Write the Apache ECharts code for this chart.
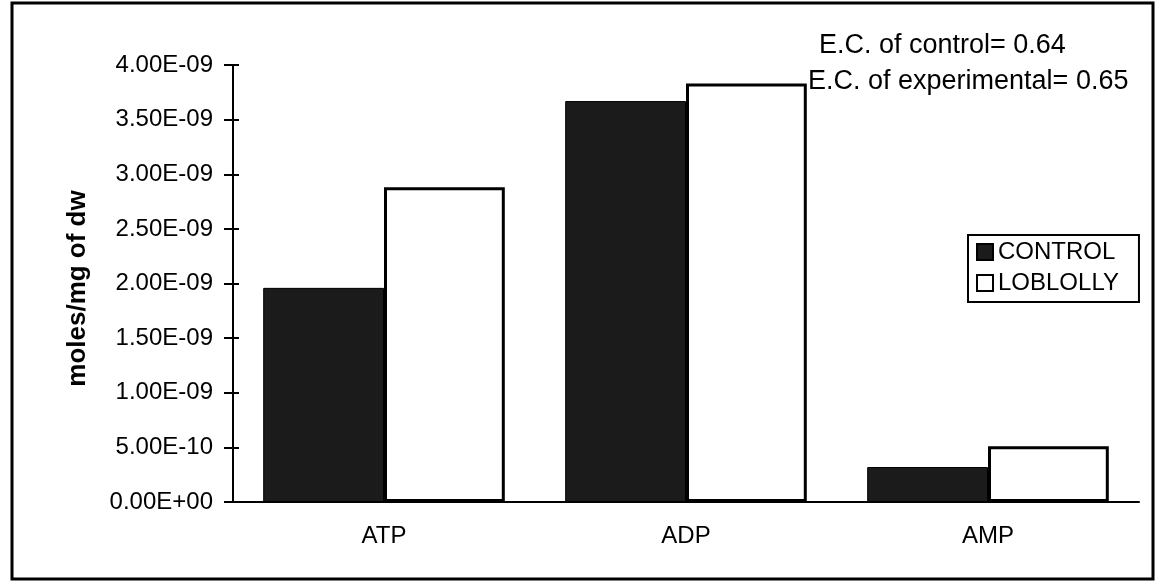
<!DOCTYPE html>
<html><head><meta charset="utf-8">
<script src="https://cdn.jsdelivr.net/npm/echarts@6/dist/echarts.min.js"></script>
<style>html,body{margin:0;padding:0;background:#fff}#c{width:1157px;height:584px}</style>
</head><body><div id="c"></div>
<script>
const categories = ['ATP', 'ADP', 'AMP'];
const controlValues = [1.96e-9, 3.67e-9, 0.32e-9];
const loblollyValues = [2.88e-9, 3.83e-9, 0.51e-9];
const yTickLabels = ['0.00E+00','5.00E-10','1.00E-09','1.50E-09','2.00E-09','2.50E-09','3.00E-09','3.50E-09','4.00E-09'];
const seriesNames = ['CONTROL', 'LOBLOLLY'];
const notes = ['E.C. of control= 0.64', 'E.C. of experimental= 0.65'];
const yTitle = 'moles/mg of dw';

const font = 'Liberation Sans, Arial, sans-serif';
const chart = echarts.init(document.getElementById('c'), null, {renderer: 'canvas'});
const yBase = {type: 'value', min: 0, max: 4e-9, interval: 5e-10, splitLine: {show: false}};
chart.setOption({
  animation: false,
  backgroundColor: '#fff',
  graphic: [
    {type: 'rect', shape: {x: 12, y: 3, width: 1141, height: 576}, style: {fill: 'none', stroke: '#000', lineWidth: 3}, silent: true},
    {type: 'text', left: 819, top: 32, style: {text: notes[0], font: '27px ' + font, fill: '#000'}},
    {type: 'text', left: 808, top: 68, style: {text: notes[1], font: '27px ' + font, fill: '#000'}}
  ],
  legend: {
    orient: 'vertical',
    left: 968, top: 235,
    icon: 'rect',
    itemWidth: 16, itemHeight: 16, itemGap: 7,
    padding: [5, 20, 7, 8],
    borderColor: '#000', borderWidth: 2,
    itemStyle: {borderWidth: 2},
    textStyle: {fontFamily: font, fontSize: 24, lineHeight: 24, color: '#000'},
    data: seriesNames
  },
  grid: {left: 233, right: 18, top: 65, bottom: 82},
  xAxis: [{
    type: 'category',
    data: categories,
    axisLine: {lineStyle: {color: '#000', width: 2}},
    axisTick: {length: 10, lineStyle: {color: '#000', width: 2}},
    axisLabel: {fontFamily: font, fontSize: 24, color: '#000', margin: 22}
  }, {
    type: 'category', position: 'bottom',
    data: categories,
    axisLine: {show: false},
    axisTick: {inside: true, length: 6, lineStyle: {color: '#000', width: 2}},
    axisLabel: {show: false}
  }],
  yAxis: [Object.assign({}, yBase, {
    name: yTitle, nameLocation: 'middle', nameGap: 142, nameRotate: 90,
    nameTextStyle: {fontFamily: font, fontSize: 26, fontWeight: 'bold', color: '#000', padding: [0, 10, 0, 0]},
    axisLine: {show: true, lineStyle: {color: '#000', width: 2}},
    axisTick: {show: true, length: 9, lineStyle: {color: '#000', width: 2}},
    axisLabel: {fontFamily: font, fontSize: 24, color: '#000', margin: 20,
      formatter: (v) => yTickLabels[Math.round(v / 5e-10)] || ''}
  }), Object.assign({}, yBase, {
    position: 'left',
    axisLine: {show: false},
    axisTick: {show: true, inside: true, length: 6, lineStyle: {color: '#000', width: 2}},
    axisLabel: {show: false}
  })],
  series: [
    {name: seriesNames[0], type: 'bar', data: controlValues, barGap: '0%', barCategoryGap: '20%',
     itemStyle: {color: '#1b1b1b', borderColor: '#000', borderWidth: 1}},
    {name: seriesNames[1], type: 'bar', data: loblollyValues,
     itemStyle: {color: '#fff', borderColor: '#000', borderWidth: 3}}
  ]
});
</script></body></html>
